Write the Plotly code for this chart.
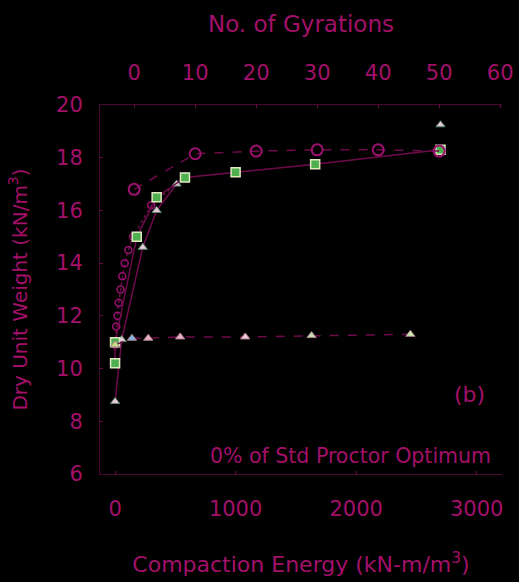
import plotly.graph_objects as go

# ---- data ----
gyr_cycles = [0, 10, 20, 30, 40, 50]
gyr_weight = [16.8, 18.15, 18.25, 18.3, 18.3, 18.25]

impact_energy = [0, 0, 180, 345, 580, 1000, 1660, 2700]
impact_weight = [10.2, 11.0, 15.0, 16.5, 17.25, 17.45, 17.75, 18.3]

chain_energy = [0, 10, 20, 30, 45, 60, 80, 110, 150, 300, 580]
chain_weight = [10.9, 11.6, 12.0, 12.5, 13.0, 13.5, 14.0, 14.5, 15.0, 16.2, 17.3]

tri_energy = [0, 55, 230, 345, 510, 580, None, 2700]
tri_weight = [8.75, 11.1, 14.6, 16.0, 17.0, 17.25, None, 19.25]

static_energy = [0, 140, 275, 540, 1080, 1630, 2450]
static_weight = [10.9, 11.15, 11.15, 11.2, 11.2, 11.25, 11.3]

energy_ticks = [0, 1000, 2000, 3000]
gyr_ticks = [0, 10, 20, 30, 40, 50, 60]
weight_ticks = [6, 8, 10, 12, 14, 16, 18, 20]

LINE = "#6e0a4a"
AXIS = "#4a0834"
TEXT = "#a3106a"
FONT = "DejaVu Sans, Verdana, sans-serif"

fig = go.Figure()

fig.add_trace(go.Scatter(
    x=chain_energy, y=chain_weight, mode="lines+markers",
    line=dict(color=LINE, width=1.5, dash="dot"),
    marker=dict(symbol="circle-open", size=7, color="#9a1070", line=dict(width=1.5)),
    showlegend=False))

fig.add_trace(go.Scatter(
    x=tri_energy, y=tri_weight, mode="lines+markers",
    line=dict(color=LINE, width=1.5),
    marker=dict(symbol="triangle-up", size=8, color="#e8c8d8",
                line=dict(color="#5a8a70", width=1)),
    connectgaps=False, showlegend=False))

fig.add_trace(go.Scatter(
    x=impact_energy, y=impact_weight, mode="lines+markers",
    line=dict(color=LINE, width=1.5),
    marker=dict(symbol="square", size=9, color="#4fb050",
                line=dict(color="#e0e8c0", width=1.5)),
    showlegend=False))

fig.add_trace(go.Scatter(
    x=static_energy, y=static_weight, mode="lines+markers",
    line=dict(color=LINE, width=1.5, dash="dash"),
    marker=dict(symbol="triangle-up", size=8,
                color=["#c8e080", "#80b8e0", "#e8b0c0", "#e8b0c8", "#f0c8d8", "#c0e0b0", "#c8f0b0"],
                line=dict(color="#b08090", width=1)),
    showlegend=False))

fig.add_trace(go.Scatter(
    x=gyr_cycles, y=gyr_weight, mode="lines+markers", xaxis="x2",
    line=dict(color=LINE, width=1.5, dash="dash"),
    marker=dict(symbol="circle-open", size=11, color="#a01070", line=dict(width=2)),
    showlegend=False))

fig.add_annotation(x=2940, y=9.0, text="(b)", showarrow=False, xref="x", yref="y",
                   font=dict(size=22, color=TEXT, family=FONT))
fig.add_annotation(x=1950, y=6.7, text="0% of Std Proctor Optimum", showarrow=False,
                   xref="x", yref="y", font=dict(size=20.5, color=TEXT, family=FONT))

axis_common = dict(showgrid=False, zeroline=False, showline=True, linecolor=AXIS,
                   linewidth=1, ticks="inside", ticklen=3, tickcolor=LINE,
                   tickfont=dict(size=21, color=TEXT, family=FONT))

fig.update_layout(
    width=519, height=582,
    paper_bgcolor="black", plot_bgcolor="black",
    margin=dict(l=100, r=17, t=105, b=108, autoexpand=False),
    xaxis=dict(range=[-125, 3210], tickvals=energy_ticks, ticklabelstandoff=16,
               title=dict(text="Compaction Energy (kN-m/m<sup>3</sup>)",
                          font=dict(size=22, color=TEXT, family=FONT), standoff=36),
               **axis_common),
    xaxis2=dict(range=[-5.6, 60.3], tickvals=gyr_ticks, overlaying="x", side="top",
                ticklabelstandoff=16,
                title=dict(text="No. of Gyrations",
                           font=dict(size=23, color=TEXT, family=FONT), standoff=21),
                **axis_common),
    yaxis=dict(range=[6, 20], tickvals=weight_ticks, ticklabelstandoff=12,
               title=dict(text="Dry Unit Weight (kN/m<sup>3</sup>)",
                          font=dict(size=20, color=TEXT, family=FONT), standoff=23),
               **axis_common),
)

fig.write_html("out.html", config={"displayModeBar": False},
               post_script="document.body.style.margin='0';document.body.style.background='black';")
